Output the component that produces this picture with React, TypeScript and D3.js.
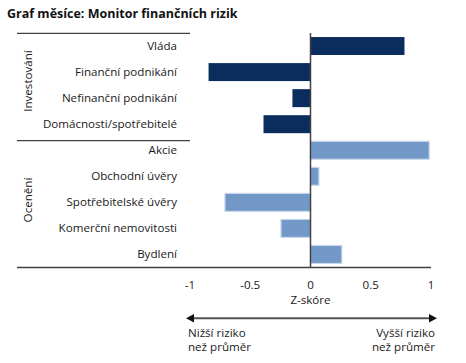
import React from "react";
import * as d3 from "d3";

const categories = [
  "Vláda",
  "Finanční podnikání",
  "Nefinanční podnikání",
  "Domácnosti/spotřebitelé",
  "Akcie",
  "Obchodní úvěry",
  "Spotřebitelské úvěry",
  "Komerční nemovitosti",
  "Bydlení",
];
const values = [0.78, -0.846, -0.15, -0.39, 0.985, 0.07, -0.71, -0.245, 0.26];
const groupOf = [0, 0, 0, 0, 1, 1, 1, 1, 1];
const groups = ["Investování", "Ocenění"];
const groupColors = ["#0b2d5e", "#7298c8"];
const xTicks = [-1, -0.5, 0, 0.5, 1];
const xTickLabels = ["-1", "-0.5", "0", "0.5", "1"];
const title = "Graf měsíce: Monitor finančních rizik";
const xTitle = "Z-skóre";
const leftNote = ["Nižší riziko", "než průměr"];
const rightNote = ["Vyšší riziko", "než průměr"];

export default function App() {
  const W = 466, H = 363;
  const font = "'Open Sans', 'Noto Sans', sans-serif";
  const fs = 11.6;
  const x = d3.scaleLinear().domain([-1, 1]).range([190, 431]);
  const y = d3.scaleBand<string>().domain(categories).range([33, 267.5]).paddingInner(0.31).paddingOuter(0.155);
  const x0 = x(0);
  const lineCol = "#404040";
  const textCol = "#1a1a1a";
  const groupIdx = (g: number) => categories.filter((_, i) => groupOf[i] === g);
  const groupSpan = (g: number) => {
    const cs = groupIdx(g);
    const top = y(cs[0])! - (y.step() * y.paddingInner()) / 2;
    const bot = y(cs[cs.length - 1])! + y.bandwidth() + (y.step() * y.paddingInner()) / 2;
    return [top, bot];
  };
  const sep = groupSpan(0)[1] + 3.5;
  return (
    <svg width={W} height={H} style={{ position: "absolute", left: 0, top: 0 }}>
      <rect width={W} height={H} fill="#fff" />
      <text x={7} y={18} fontFamily={font} fontWeight={700} fontSize={12.5} fill="#111">{title}</text>
      <line x1={17} x2={190} y1={33.3} y2={33.3} stroke={lineCol} strokeWidth={1.3} />
      <line x1={17} x2={190} y1={sep} y2={sep} stroke={lineCol} strokeWidth={1.3} />
      {groups.map((g, gi) => {
        const cy = gi === 0 ? 81 : 200;
        return (
          <text key={g} transform={`translate(32,${cy}) rotate(-90)`} textAnchor="middle" fontFamily={font} fontSize={fs} fill={textCol}>{g}</text>
        );
      })}
      {categories.map((c) => (
        <text key={c} x={177} y={y(c)! + y.bandwidth() / 2 + 4} textAnchor="end" fontFamily={font} fontSize={fs} fill={textCol}>{c}</text>
      ))}
      {categories.map((c, i) => {
        const v = values[i];
        const g = groupOf[i];
        return (
          <rect
            key={c}
            x={Math.min(x(v), x0)}
            y={y(c)!}
            width={Math.abs(x(v) - x0)}
            height={y.bandwidth()}
            fill={groupColors[g]}
            stroke={g === 1 ? "#c9d7ea" : "none"}
            strokeWidth={g === 1 ? 1.2 : 0}
          />
        );
      })}
      <line x1={x0} x2={x0} y1={33} y2={267.5} stroke={lineCol} strokeWidth={1.5} />
      <line x1={17} x2={431} y1={267.5} y2={267.5} stroke={lineCol} strokeWidth={1.5} />
      {xTicks.map((t, i) => (
        <text key={t} x={x(t)} y={289} textAnchor="middle" fontFamily={font} fontSize={fs} fill={textCol}>{xTickLabels[i]}</text>
      ))}
      <text x={x0} y={304} textAnchor="middle" fontFamily={font} fontSize={fs} fill={textCol}>{xTitle}</text>
      <line x1={192} x2={431} y1={318.3} y2={318.3} stroke="#555" strokeWidth={2} />
      <path d={`M186,318.3 L194,314 L194,322.6 Z`} fill="#111" />
      <path d={`M437,318.3 L429,314 L429,322.6 Z`} fill="#111" />
      {leftNote.map((s, i) => (
        <text key={s} x={188} y={337 + i * 14} fontFamily={font} fontSize={fs} fill={textCol}>{s}</text>
      ))}
      {rightNote.map((s, i) => (
        <text key={s} x={435} y={337 + i * 14} textAnchor="end" fontFamily={font} fontSize={fs} fill={textCol}>{s}</text>
      ))}
    </svg>
  );
}
